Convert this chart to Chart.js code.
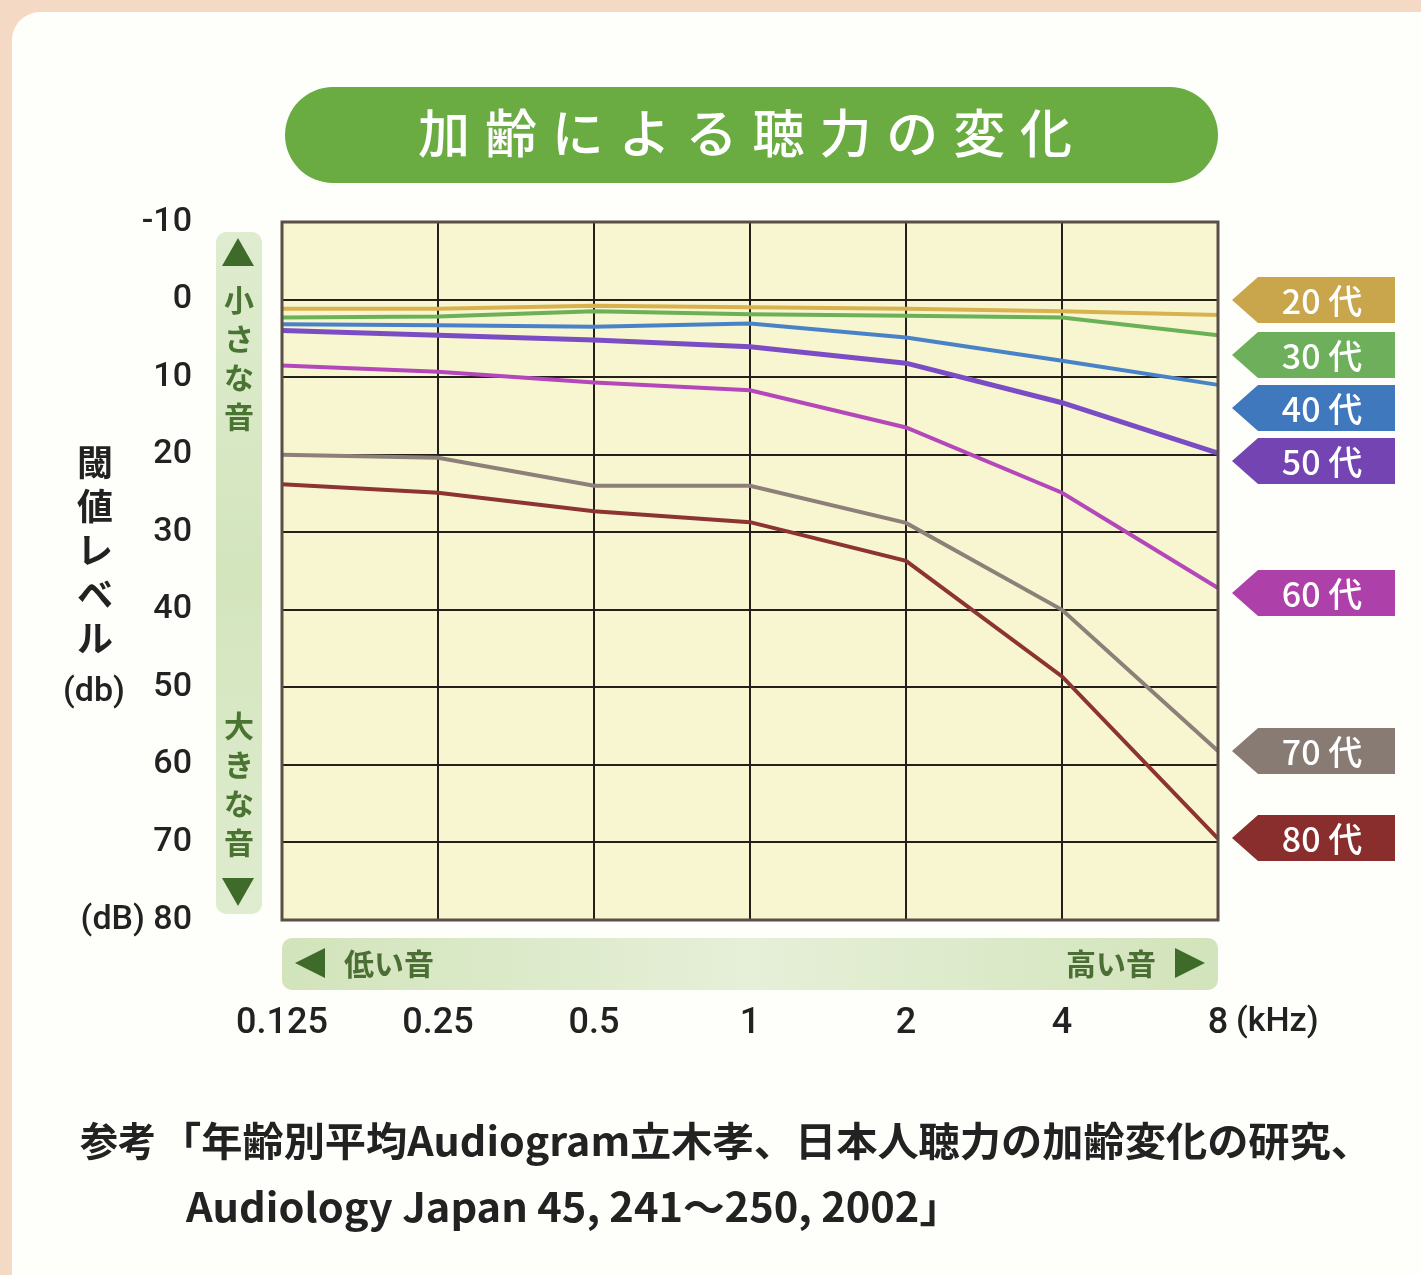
<!DOCTYPE html>
<html lang="ja">
<head>
<meta charset="utf-8">
<title>加齢による聴力の変化</title>
<script src="https://cdn.jsdelivr.net/npm/chart.js@4.4.1/dist/chart.umd.min.js"></script>
<style>
  html, body { margin: 0; padding: 0; background: #f4d9c4; overflow: hidden; }
  #card {
    position: absolute; left: 12px; top: 12px; width: 1440px; height: 1300px;
    background: #fefefb; border-radius: 28px;
  }
  #wrap { position: absolute; left: 0; top: 0; width: 1421px; height: 1275px; }
</style>
</head>
<body>
<div id="card"></div>
<div id="wrap"><canvas id="chart" width="1421" height="1275"></canvas></div>
<script>
// frequencies (kHz) and hearing threshold (dB) per age group
const freqLabels = ['0.125', '0.25', '0.5', '1', '2', '4', '8'];
const ageLabels = ['20 代', '30 代', '40 代', '50 代', '60 代', '70 代', '80 代'];
const age20 = [1.2, 1.2, 0.8, 1.0, 1.2, 1.5, 2.0];
const age30 = [2.3, 2.2, 1.5, 1.9, 2.1, 2.3, 4.6];
const age40 = [3.2, 3.3, 3.5, 3.1, 4.9, 7.9, 11.0];
const age50 = [4.0, 4.6, 5.2, 6.1, 8.2, 13.3, 19.8];
const age60 = [8.5, 9.3, 10.7, 11.7, 16.5, 24.9, 37.2];
const age70 = [20.0, 20.4, 24.0, 24.0, 28.8, 40.0, 58.2];
const age80 = [23.8, 24.9, 27.3, 28.7, 33.7, 48.6, 69.5];

const lineColors = ['#d8b24e', '#6bb157', '#4a82c8', '#7b4dc4', '#b447b9', '#8c8079', '#8d3331'];
const tagColors = ['#c9a54c', '#6daf5a', '#3f78bd', '#7444b2', '#ae40aa', '#877b74', '#8a2d2d'];
// vertical centres of the age tags on the right (px)
const tagCenters = [300, 355, 408, 461, 593, 751, 838];

const JP = '"Noto Sans CJK JP", "Noto Sans", sans-serif';
const NUM = '"Roboto", "Noto Sans", sans-serif';

function roundRect(ctx, x, y, w, h, r) {
    ctx.beginPath();
    ctx.moveTo(x + r, y);
    ctx.lineTo(x + w - r, y);
    ctx.arcTo(x + w, y, x + w, y + r, r);
    ctx.lineTo(x + w, y + h - r);
    ctx.arcTo(x + w, y + h, x + w - r, y + h, r);
    ctx.lineTo(x + r, y + h);
    ctx.arcTo(x, y + h, x, y + h - r, r);
    ctx.lineTo(x, y + r);
    ctx.arcTo(x, y, x + r, y, r);
    ctx.closePath();
}

// draw text squeezed or stretched to an exact width
function fitText(ctx, text, x, y, width) {
    const w = ctx.measureText(text).width;
    ctx.save();
    ctx.translate(x, y);
    ctx.scale(width / w, 1);
    ctx.fillText(text, 0, 0);
    ctx.restore();
}

const decor = {
    id: 'decor',
    beforeDraw(chart) {
        const ctx = chart.ctx;
        const a = chart.chartArea;
        ctx.save();

        // plot background
        ctx.fillStyle = '#f7f6d0';
        ctx.fillRect(a.left, a.top, a.right - a.left, a.bottom - a.top);

        // title pill
        ctx.fillStyle = '#6aac42';
        roundRect(ctx, a.left + 3, 87, a.right - a.left - 3, 96, 48);
        ctx.fill();
        ctx.fillStyle = '#ffffff';
        ctx.font = '500 52px ' + JP;
        ctx.textAlign = 'center';
        ctx.textBaseline = 'middle';
        const title = '加齢による聴力の変化';
        for (let i = 0; i < title.length; i++) {
            ctx.fillText(title[i], 444 + i * 66.9, 133);
        }

        // left vertical band
        const g1 = ctx.createLinearGradient(0, 232, 0, 912);
        g1.addColorStop(0, '#dfeccf');
        g1.addColorStop(0.5, '#d3e5bd');
        g1.addColorStop(1, '#dfeccf');
        ctx.fillStyle = g1;
        roundRect(ctx, 216, 232, 46, 682, 10);
        ctx.fill();
        ctx.fillStyle = '#3f6b2a';
        ctx.beginPath();
        ctx.moveTo(238, 238); ctx.lineTo(254, 266); ctx.lineTo(222, 266); ctx.closePath();
        ctx.fill();
        ctx.beginPath();
        ctx.moveTo(238, 906); ctx.lineTo(254, 878); ctx.lineTo(222, 878); ctx.closePath();
        ctx.fill();
        ctx.fillStyle = '#4a7432';
        ctx.font = 'bold 30px ' + JP;
        ['小', 'さ', 'な', '音'].forEach((c, i) => ctx.fillText(c, 239, 300 + i * 39));
        ['大', 'き', 'な', '音'].forEach((c, i) => ctx.fillText(c, 239, 726 + i * 39));

        // bottom horizontal band
        const g2 = ctx.createLinearGradient(a.left, 0, a.right, 0);
        g2.addColorStop(0, '#d2e4bb');
        g2.addColorStop(0.5, '#e6efd8');
        g2.addColorStop(1, '#d2e4bb');
        ctx.fillStyle = g2;
        roundRect(ctx, a.left, 938, a.right - a.left, 52, 10);
        ctx.fill();
        ctx.fillStyle = '#3f6b2a';
        ctx.beginPath();
        ctx.moveTo(295, 963); ctx.lineTo(325, 948); ctx.lineTo(325, 978); ctx.closePath();
        ctx.fill();
        ctx.beginPath();
        ctx.moveTo(1205, 963); ctx.lineTo(1175, 948); ctx.lineTo(1175, 978); ctx.closePath();
        ctx.fill();
        ctx.fillStyle = '#4a6e33';
        ctx.textAlign = 'left';
        ctx.fillText('低い音', 344, 964);
        ctx.textAlign = 'right';
        ctx.fillText('高い音', 1156, 964);

        // y axis title
        ctx.fillStyle = '#222';
        ctx.textAlign = 'center';
        ctx.font = 'bold 36px ' + JP;
        ['閾', '値', 'レ', 'ベ', 'ル'].forEach((c, i) => ctx.fillText(c, 95, 462 + i * 44));
        ctx.font = '500 34px ' + NUM;
        ctx.fillText('(db)', 94, 692);

        // reference note
        ctx.textAlign = 'left';
        ctx.font = 'bold 40px ' + JP;
        fitText(ctx, '参考', 80, 1141, 76);
        fitText(ctx, '「年齢別平均Audiogram立木孝、日本人聴力の加齢変化の研究、', 160, 1141, 1212);
        fitText(ctx, 'Audiology Japan 45, 241〜250, 2002」', 186, 1207, 775);

        ctx.restore();
    },
    afterDraw(chart) {
        const ctx = chart.ctx;
        const a = chart.chartArea;
        ctx.save();

        // plot frame
        ctx.strokeStyle = '#5a4f46';
        ctx.lineWidth = 3;
        ctx.strokeRect(a.left, a.top, a.right - a.left, a.bottom - a.top);

        // unit after the last tick
        ctx.fillStyle = '#222';
        ctx.font = '500 34px ' + NUM;
        ctx.textAlign = 'left';
        ctx.textBaseline = 'middle';
        ctx.fillText('(kHz)', 1236, 1022);

        // age tags
        ctx.font = '500 34px ' + JP;
        tagCenters.forEach((cy, i) => {
            ctx.fillStyle = tagColors[i];
            ctx.beginPath();
            ctx.moveTo(1232, cy);
            ctx.lineTo(1258, cy - 23);
            ctx.lineTo(1395, cy - 23);
            ctx.lineTo(1395, cy + 23);
            ctx.lineTo(1258, cy + 23);
            ctx.closePath();
            ctx.fill();
            ctx.fillStyle = '#ffffff';
            ctx.textAlign = 'center';
            ctx.fillText(ageLabels[i], 1322, cy + 1);
        });
        ctx.restore();
    }
};

const seriesData = [age20, age30, age40, age50, age60, age70, age80];

new Chart(document.getElementById('chart'), {
    type: 'line',
    data: {
        labels: freqLabels,
        datasets: seriesData.map((d, i) => ({
            label: ageLabels[i],
            data: d,
            borderColor: lineColors[i],
            borderWidth: i === 3 ? 5 : 4,
            pointRadius: 0,
            tension: 0,
            fill: false
        }))
    },
    options: {
        responsive: false,
        animation: false,
        layout: { padding: { top: 222, right: 203, bottom: 0, left: 0 } },
        plugins: {
            legend: { display: false },
            tooltip: { enabled: false }
        },
        scales: {
            x: {
                offset: false,
                afterFit: s => { s.height = 355; },
                grid: { color: '#231f1b', lineWidth: 2, drawTicks: false },
                border: { color: '#231f1b', width: 2 },
                ticks: {
                    padding: 82,
                    autoSkip: false,
                    maxRotation: 0,
                    color: '#222',
                    font: { family: NUM, size: 36, weight: '500' },
                    callback: (v, i) => freqLabels[i]
                }
            },
            y: {
                min: -10,
                max: 80,
                reverse: true,
                afterFit: s => { s.width = 282; },
                grid: { color: '#231f1b', lineWidth: 2, drawTicks: false },
                border: { color: '#231f1b', width: 2 },
                ticks: {
                    stepSize: 10,
                    padding: 90,
                    color: '#222',
                    font: { family: NUM, size: 34, weight: '500' },
                    callback: v => v === 80 ? '(dB) 80' : String(v)
                }
            }
        }
    },
    plugins: [decor]
});
</script>
</body>
</html>
